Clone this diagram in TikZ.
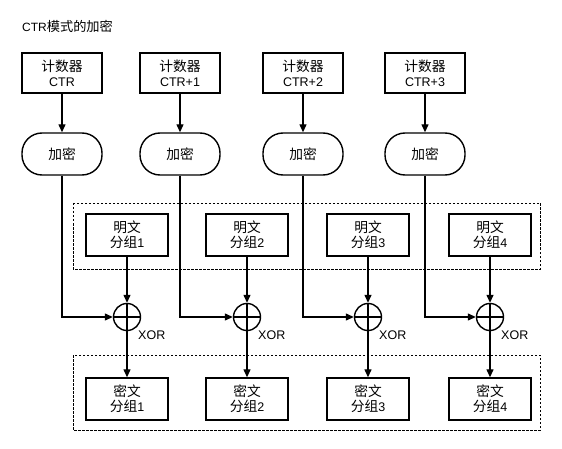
\documentclass[tikz,border=0pt]{standalone}
\usepackage{fontspec}
\setmainfont{Liberation Sans}
\newfontfamily\cjk[Scale=1.1]{Noto Sans CJK SC}
\usetikzlibrary{arrows.meta}
\begin{document}
\begin{tikzpicture}[x=1pt,y=-1pt,
  font=\fontsize{12.5}{15}\selectfont,
  box/.style={draw,line width=1.4pt,minimum width=80pt,minimum height=40pt,align=center,inner sep=1pt},
  encbox/.style={draw,line width=1.4pt,rounded corners=20pt,minimum width=80pt,minimum height=42pt,align=center},
  blk/.style={draw,line width=1.4pt,minimum width=82pt,minimum height=42pt,align=center,inner sep=1pt},
  xorc/.style={draw,circle,line width=1.4pt,minimum size=27pt,inner sep=0pt},
  arr/.style={line width=1.3pt,-{Triangle[length=8pt,width=7pt]}},
  dbox/.style={dash pattern=on 2.5pt off 1.5pt,line width=0.6pt}
]
\useasboundingbox (0,0) rectangle (562,449);
\node[anchor=west,inner sep=0pt,font=\fontsize{12}{14}\selectfont] (title) at (22,26) {CTR{\cjk 模式的加密}};

\draw[dbox] (73,203) rectangle (540,269);
\draw[dbox] (73,355) rectangle (540,430);

\foreach \i/\cx/\px/\lab in {1/62/127/CTR,2/180/247/CTR+1,3/303/368/CTR+2,4/425/490/CTR+3}{
  \node[box] (ctr\i) at (\cx,73) {{\cjk 计数器}\\\lab};
  \node[encbox] (enc\i) at (\cx,154) {{\cjk 加密}};
  \node[blk] (pt\i) at (\px,235) {{\cjk 明文}\\{\cjk 分组}\i};
  \node[xorc] (x\i) at (\px,317) {};
  \node[blk] (ct\i) at (\px,399) {{\cjk 密文}\\{\cjk 分组}\i};
  \node[anchor=west,inner sep=0pt] (xl\i) at (\px+11,335) {XOR};
  \draw[line width=1.3pt] (x\i.north) -- (x\i.south) (x\i.west) -- (x\i.east);
  \draw[arr] (ctr\i) -- (enc\i);
  \draw[arr] (enc\i.south) |- (x\i.west);
  \draw[arr] (pt\i) -- (x\i);
  \draw[arr] (x\i) -- (ct\i);
}
\end{tikzpicture}
\end{document}
